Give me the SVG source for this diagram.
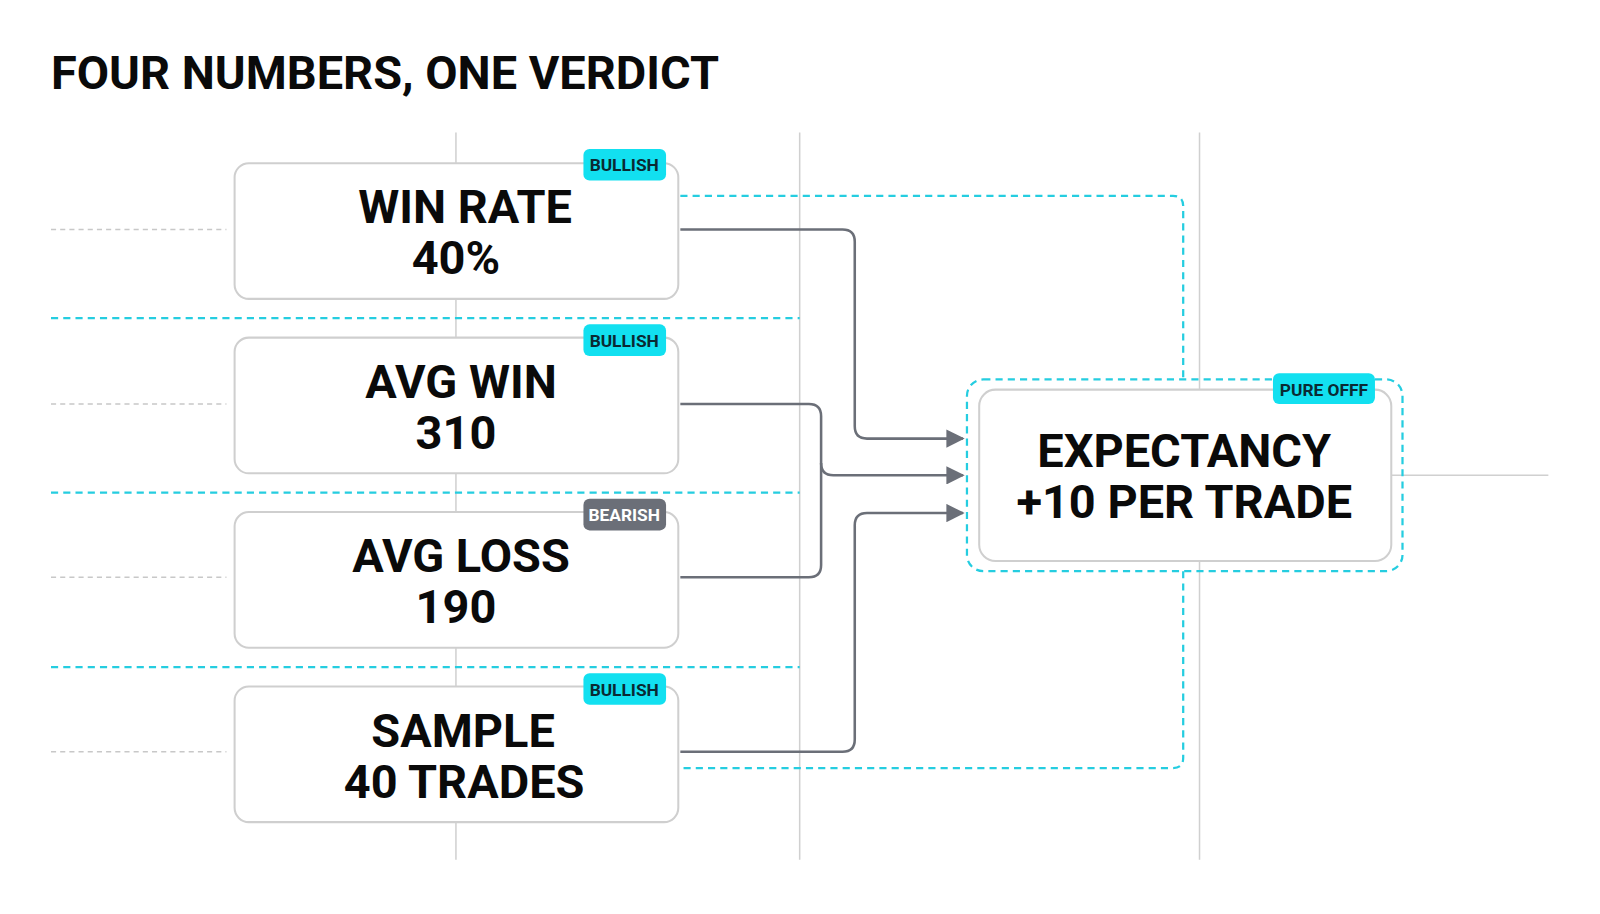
<svg xmlns="http://www.w3.org/2000/svg" width="1600" height="914" viewBox="0 0 1600 914">
<defs>
<style>
.t{font-family:Roboto,"Liberation Sans",sans-serif;font-weight:700;fill:#0a0a0a;text-anchor:middle}
.box{fill:#fff;stroke:#cfcfcf;stroke-width:2}
.grid{stroke:#d0d0d0;stroke-width:1.5;fill:none}
.gd{stroke:#c8c8c8;stroke-width:1.5;stroke-dasharray:5 4;fill:none}
.cy{stroke:#25cde0;stroke-width:2.2;stroke-dasharray:7 5;fill:none}
.cn{stroke:#6b6f78;stroke-width:2.5;fill:none}
.bd{font-family:Roboto,"Liberation Sans",sans-serif;font-weight:700;font-size:17px;text-anchor:middle}
</style>
<marker id="ar" viewBox="0 0 10 10" refX="9" refY="5" markerWidth="18" markerHeight="18" markerUnits="userSpaceOnUse" orient="auto"><path d="M0,0L10,5L0,10z" fill="#6b6f78"/></marker>
</defs>
<rect width="1600" height="914" fill="#fff"/>
<g transform="scale(1.02)">
<text x="50" y="87" style="font-family:Roboto,'Liberation Sans',sans-serif;font-weight:700;font-size:46px;fill:#0a0a0a">FOUR NUMBERS, ONE VERDICT</text>
<g id="grid">
<path class="grid" d="M447 130V843M784 130V843M1176 130V843M1364 466H1518"/>
<path class="gd" d="M50 225H222M50 396H222M50 566H222M50 737H222"/>
<path class="cy" d="M50 312H784M50 483H784M50 654H784"/>
</g>
<g id="connectors">
<path class="cy" d="M667 192H1150Q1160 192 1160 202V372M1160 560V743Q1160 753 1150 753H667"/>
<path class="cn" marker-end="url(#ar)" d="M667 225H826Q838 225 838 237V418Q838 430 850 430H944"/>
<path class="cn" d="M667 396H793Q805 396 805 408V554Q805 566 793 566H667"/>
<path class="cn" marker-end="url(#ar)" d="M805 454Q805 466 817 466H944"/>
<path class="cn" marker-end="url(#ar)" d="M667 737H826Q838 737 838 725V515Q838 503 850 503H944"/>
</g>
<g id="win-rate">
<rect class="box" x="230" y="160" width="435" height="133" rx="14"/>
<text class="t" x="456" y="219" font-size="46">WIN RATE</text>
<text class="t" x="447" y="269" font-size="46">40%</text>
<rect x="572" y="146" width="81" height="31" rx="6" fill="#12e0f0"/>
<text class="bd" x="612" y="168" fill="#0a2a33">BULLISH</text>
</g>
<g id="avg-win">
<rect class="box" x="230" y="331" width="435" height="133" rx="14"/>
<text class="t" x="452" y="390" font-size="46">AVG WIN</text>
<text class="t" x="447" y="440" font-size="46">310</text>
<rect x="572" y="318" width="81" height="31" rx="6" fill="#12e0f0"/>
<text class="bd" x="612" y="340" fill="#0a2a33">BULLISH</text>
</g>
<g id="avg-loss">
<rect class="box" x="230" y="502" width="435" height="133" rx="14"/>
<text class="t" x="452" y="561" font-size="46">AVG LOSS</text>
<text class="t" x="447" y="611" font-size="46">190</text>
<rect x="572" y="489" width="81" height="31" rx="6" fill="#6b6f78"/>
<text class="bd" x="612" y="511" fill="#fff">BEARISH</text>
</g>
<g id="sample">
<rect class="box" x="230" y="673" width="435" height="133" rx="14"/>
<text class="t" x="454" y="732" font-size="46">SAMPLE</text>
<text class="t" x="455" y="782" font-size="46">40 TRADES</text>
<rect x="572" y="660" width="81" height="31" rx="6" fill="#12e0f0"/>
<text class="bd" x="612" y="682" fill="#0a2a33">BULLISH</text>
</g>
<g id="expectancy">
<rect class="cy" x="948" y="372" width="427" height="188" rx="16"/>
<rect class="box" x="960" y="382" width="404" height="168" rx="16"/>
<text class="t" x="1161" y="458" font-size="46">EXPECTANCY</text>
<text class="t" x="1161" y="508" font-size="46">+10 PER TRADE</text>
<rect x="1248" y="366" width="100" height="30" rx="6" fill="#12e0f0"/>
<text class="bd" x="1298" y="388" fill="#0a2a33">PURE OFFF</text>
</g>
</g>
</svg>
